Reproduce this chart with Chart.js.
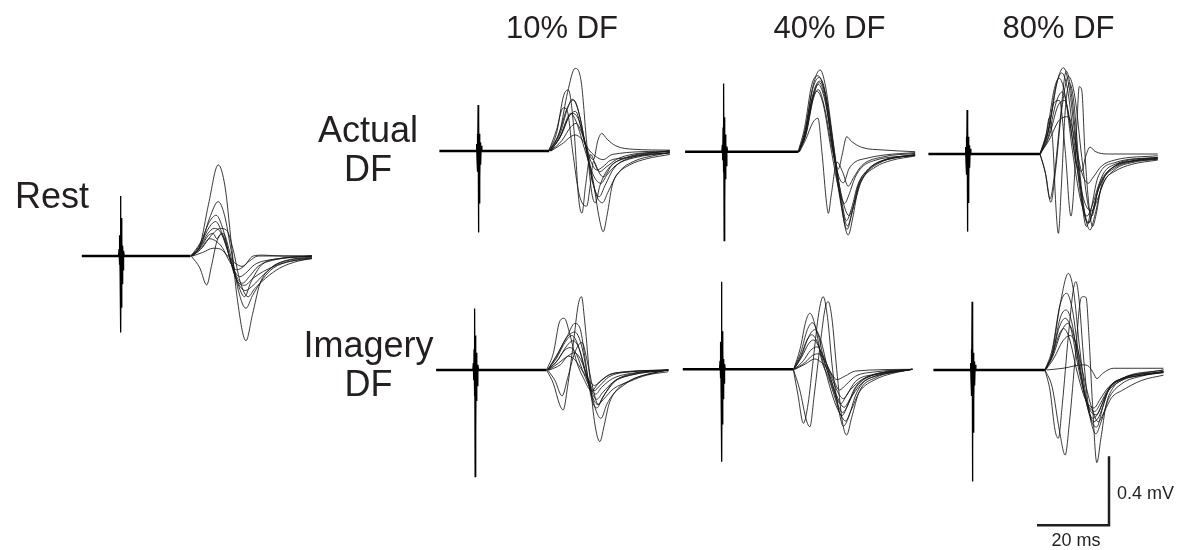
<!DOCTYPE html>
<html><head><meta charset="utf-8">
<script src="https://cdn.jsdelivr.net/npm/chart.js@4.4.1/dist/chart.umd.min.js"></script>
<style>
html,body{margin:0;padding:0;background:#fff;}
body{width:1188px;height:550px;overflow:hidden;position:relative;}
canvas{position:absolute;}
.lbl{position:absolute;font-family:"Liberation Sans",Arial,Helvetica,sans-serif;color:#231f20;white-space:nowrap;line-height:1;}
</style></head><body>
<script>
// ---------- DATA (time in ms, amplitude in mV) ----------
const columnTitles = ["10% DF", "40% DF", "80% DF"];
const rowLabels = [["Actual", "DF"], ["Imagery", "DF"]];
const restLabel = "Rest";
const SCALE_MS = 20;
const SCALE_MV = 0.4;
const scaleBarTimes = [-SCALE_MS, 0, 0];
const scaleBarVolts = [0, 0, SCALE_MV];

const restBaseline = [[0,0],[30.2,0]];
const restArtifact = [[10.2,0],[10.35,0.04],[10.45,-0.05],[10.55,0.12],[10.65,-0.1],[10.75,0.348],[10.85,-0.444],[10.95,0.22],[11.05,-0.3],[11.15,0.12],[11.25,-0.16],[11.35,0.06],[11.45,-0.08],[11.6,0.03],[11.8,0]];
const restTraces = [
 [[30.2,0],[32.8,0.06],[35.2,0.3],[37.9,0.528],[39.8,0.4],[41.5,0.08],[43.2,-0.25],[45.6,-0.491],[47.4,-0.34],[49.5,-0.16],[52.5,-0.07],[56,-0.03],[63.9,-0.005]],
 [[30.4,0],[32.8,-0.07],[34.7,-0.168],[36,-0.06],[37.6,0.09],[39.3,0.13],[41,0.03],[43.2,-0.15],[45.2,-0.236],[47,-0.15],[50,-0.05],[55,-0.015],[63.9,0]],
 [[30.3,0],[33,0.06],[35.5,0.22],[37.9,0.315],[39.6,0.24],[41.5,0.03],[43.5,-0.2],[45.6,-0.303],[47.4,-0.23],[50.4,-0.13],[53.2,-0.07],[58,-0.03],[63.9,-0.01]],
 [[30.3,0],[33,0.08],[35.5,0.2],[37.3,0.236],[39.3,0.15],[41.2,-0.02],[43.5,-0.16],[45.4,-0.2],[47.6,-0.17],[50.4,-0.11],[54,-0.05],[58.7,-0.02],[63.9,-0.01]],
 [[30.5,0],[33,0.07],[35.5,0.17],[37.2,0.2],[39,0.13],[41,0],[43,-0.12],[44.6,-0.158],[46.5,-0.12],[49,-0.06],[53,-0.025],[63.9,0]],
 [[30.4,0],[32.8,0.05],[35,0.13],[36.8,0.16],[38.5,0.14],[40.5,0.03],[42.8,-0.13],[45.2,-0.17],[47.5,-0.13],[50.4,-0.09],[56,-0.04],[63.9,-0.015]],
 [[30.6,0],[33,0.05],[35.2,0.12],[36.5,0.13],[37.5,0.1],[38.7,0.13],[40,0.08],[41.5,-0.04],[43.9,-0.12],[45.5,-0.1],[48,-0.05],[53,-0.02],[63.9,0]],
 [[30.5,0],[33,0.04],[35.5,0.1],[37,0.09],[39,0.05],[41,-0.03],[43,-0.08],[45,-0.06],[47.6,0],[50.4,0.005],[56,0],[63.9,0]],
 [[30.8,0],[33.5,0.02],[36.5,0.045],[38.5,0.04],[40.5,0],[42.5,-0.04],[44.5,-0.06],[46.5,-0.03],[49,0],[63.9,0]],
 [[30.8,0],[33.5,0.05],[36,0.12],[38.5,0.16],[40.2,0.15],[42,0.04],[44,-0.15],[46.2,-0.236],[48,-0.19],[51,-0.13],[55,-0.07],[60,-0.03],[63.9,-0.015]]
];

const a10Baseline = [[0,0],[30.5,0]];
const a10Artifact = [[10.2,0],[10.35,0.04],[10.45,-0.05],[10.55,0.1],[10.65,-0.12],[10.75,0.267],[10.85,-0.473],[10.95,0.18],[11.05,-0.3],[11.15,0.1],[11.25,-0.16],[11.35,0.05],[11.45,-0.08],[11.6,0.03],[11.8,0]];
const a10Traces = [
 [[30.5,0],[33.5,0.12],[35.6,0.34],[37.7,0.479],[39.4,0.4],[40.9,0.05],[42.3,-0.24],[43.3,-0.3],[44.6,-0.2],[47,-0.1],[52,-0.04],[58,-0.015],[64,0]],
 [[30.3,0],[32.5,0.1],[34.5,0.32],[35.8,0.354],[37.4,0.12],[38.7,-0.28],[39.6,-0.36],[40.6,-0.2],[42,-0.02],[43.7,-0.1],[45.5,-0.15],[48,-0.08],[53,-0.03],[64,0]],
 [[31,0],[34,0.1],[36.8,0.218],[38.5,0.19],[40.5,0.04],[42.6,-0.16],[44.5,-0.4],[45.5,-0.468],[46.6,-0.37],[48,-0.2],[50,-0.12],[54,-0.06],[60,-0.025],[64,-0.01]],
 [[30.8,0],[33.5,0.08],[36,0.2],[37.8,0.23],[39.8,0.1],[41.6,-0.02],[42.8,-0.05],[44,0.06],[45.1,0.102],[46.5,0.07],[49,0.03],[54,0.01],[64,0.005]],
 [[30.6,0],[33.2,0.1],[35.5,0.25],[37.3,0.296],[39,0.2],[41,-0.02],[42.8,-0.2],[44.4,-0.265],[46,-0.2],[48.5,-0.1],[53,-0.04],[64,-0.01]],
 [[30.7,0],[33.5,0.08],[35.3,0.18],[36.4,0.218],[38,0.17],[40.5,0],[43,-0.15],[44.9,-0.187],[46.5,-0.14],[49.2,-0.08],[54,-0.04],[64,-0.01]],
 [[30.9,0],[34,0.06],[36.5,0.14],[38,0.16],[39.6,0.1],[41.5,-0.03],[43.7,-0.11],[45.5,-0.09],[47.4,-0.055],[52,-0.04],[58,-0.02],[64,-0.01]],
 [[30.4,0],[32.5,0.12],[34.4,0.25],[35.4,0.24],[37,0],[38.8,-0.25],[40.9,-0.32],[41.9,-0.2],[42.8,-0.06],[44.5,-0.12],[46.5,-0.09],[50,-0.04],[64,0]],
 [[31,0],[34,0.04],[37.7,0.093],[39.5,0.07],[41.8,0],[44,-0.04],[45.5,-0.05],[48,-0.02],[64,0]],
 [[30.6,0],[33.5,0.1],[35.5,0.24],[36.9,0.3],[38.5,0.24],[40.9,0],[43.5,-0.25],[45.3,-0.3],[46.8,-0.24],[49.2,-0.14],[52.9,-0.08],[57.6,-0.045],[64,-0.02]]
];

const a40Baseline = [[0,0],[31.5,0]];
const a40Artifact = [[10.2,0],[10.35,0.04],[10.45,-0.05],[10.55,0.14],[10.65,-0.12],[10.75,0.396],[10.85,-0.516],[10.95,0.2],[11.05,-0.3],[11.15,0.1],[11.25,-0.16],[11.35,0.05],[11.45,-0.08],[11.6,0.03],[11.8,0]];
const a40Traces = [
 [[31.5,0],[33.3,0.12],[35.5,0.38],[37.5,0.474],[39,0.38],[41,0.08],[43,-0.25],[45.3,-0.483],[46.6,-0.38],[48,-0.22],[50,-0.13],[53,-0.07],[57.5,-0.04],[63.9,-0.02]],
 [[31.6,0],[33.4,0.13],[35.4,0.36],[37.2,0.43],[38.9,0.35],[41,0.05],[43,-0.25],[45.1,-0.43],[46.5,-0.34],[48.2,-0.2],[50.5,-0.12],[54,-0.065],[58,-0.035],[63.9,-0.015]],
 [[31.6,0],[33.5,0.12],[35.6,0.34],[37.4,0.41],[39,0.33],[41.2,0.04],[43.2,-0.24],[44.8,-0.4],[46.2,-0.33],[48,-0.19],[51,-0.1],[55,-0.05],[63.9,-0.02]],
 [[31.5,0],[33.6,0.1],[35.8,0.33],[37,0.39],[38.8,0.3],[41.2,0],[43.4,-0.25],[45.5,-0.37],[47,-0.3],[49,-0.17],[52.8,-0.09],[57.4,-0.05],[63.9,-0.025]],
 [[31.4,0],[33.2,0.14],[35.2,0.39],[36.9,0.44],[38.6,0.36],[40.8,0.05],[43,-0.27],[45,-0.45],[46.3,-0.36],[48,-0.2],[50.5,-0.11],[55,-0.05],[63.9,-0.02]],
 [[31.8,0],[33.5,0.07],[35.5,0.17],[36.9,0.194],[38,0],[39.3,-0.3],[39.8,-0.357],[40.6,-0.25],[42.2,-0.06],[43.8,-0.12],[45.3,-0.2],[46.8,-0.15],[49.1,-0.08],[55,-0.03],[63.9,-0.01]],
 [[31.6,0],[33.5,0.1],[35.5,0.3],[37,0.36],[38.8,0.25],[41,0],[42.6,-0.1],[43.6,-0.02],[44.9,0.087],[46.2,0.06],[49.1,0.025],[55,0.01],[63.9,0]],
 [[31.7,0],[33.5,0.1],[35.5,0.32],[37.3,0.4],[39,0.3],[41,0.02],[42.8,-0.15],[44,-0.18],[45.5,-0.1],[47.2,-0.06],[50,-0.04],[55,-0.02],[63.9,-0.005]],
 [[31.5,0],[33.3,0.1],[35.2,0.3],[36.6,0.35],[38.3,0.28],[40.5,0.02],[42.5,-0.2],[44.3,-0.3],[45.5,-0.25],[47.2,-0.15],[49.1,-0.09],[52.75,-0.05],[63.9,-0.02]]
];

const a80Baseline = [[0,0],[31,0]];
const a80Artifact = [[10.2,0],[10.35,0.04],[10.45,-0.05],[10.55,0.1],[10.65,-0.12],[10.75,0.255],[10.85,-0.45],[10.95,0.16],[11.05,-0.28],[11.15,0.1],[11.25,-0.15],[11.35,0.05],[11.45,-0.08],[11.6,0.03],[11.8,0]];
const a80Traces = [
 [[31,0],[33.5,0.15],[35.8,0.42],[37.5,0.5],[39,0.4],[41,0.05],[43,-0.3],[44.9,-0.44],[46.3,-0.35],[48,-0.2],[51.8,-0.09],[56.5,-0.05],[63.7,-0.03]],
 [[31.1,0],[33.3,0.14],[35.5,0.4],[37,0.47],[38.6,0.38],[40.6,0.05],[42.6,-0.28],[44.4,-0.4],[45.8,-0.32],[47.6,-0.18],[51.8,-0.08],[56.5,-0.045],[63.7,-0.025]],
 [[31,0],[33,0.14],[35,0.38],[36.3,0.44],[37.9,0.35],[40,0.02],[42.2,-0.26],[44,-0.36],[45.5,-0.3],[47.5,-0.17],[51.8,-0.07],[56.5,-0.04],[63.7,-0.02]],
 [[31,0],[32.4,-0.1],[33.8,-0.26],[35,-0.12],[36.6,0.2],[38.3,0.48],[39.9,0.32],[41.8,-0.1],[43.9,-0.42],[45.2,-0.32],[47,-0.14],[51.8,-0.05],[63.7,-0.02]],
 [[31,0],[32.6,-0.12],[34,-0.28],[35.3,-0.1],[37,0.25],[38.9,0.45],[40.7,0.33],[42.6,-0.02],[44.4,-0.3],[45.4,-0.36],[47,-0.22],[51.8,-0.07],[63.7,-0.03]],
 [[31,0],[32.6,0.1],[33.6,0.21],[34.6,0.05],[35.4,-0.3],[36.1,-0.46],[36.9,-0.2],[38,0.25],[39.2,0.41],[40.4,0.3],[41.8,-0.05],[43.5,-0.35],[44.6,-0.4],[46,-0.3],[48,-0.14],[51.8,-0.06],[63.7,-0.02]],
 [[31,0],[33,0.1],[35,0.3],[36.4,0.31],[38,0.02],[39.6,-0.36],[40.4,-0.2],[41.3,0.2],[41.9,0.39],[42.6,0.37],[43.5,0],[44.6,-0.3],[45.6,-0.42],[46.6,-0.35],[48.1,-0.18],[51.8,-0.07],[56.5,-0.04],[63.7,-0.025]],
 [[31.1,0],[33.5,0.1],[36,0.28],[37.9,0.31],[39.5,0.15],[41,-0.05],[42.6,-0.1],[43.6,-0.02],[44.9,0.04],[46.3,0.015],[50,0],[63.7,0]],
 [[31,0],[33.5,0.08],[36.5,0.2],[38.9,0.216],[40.5,0.1],[42.5,-0.1],[44.4,-0.17],[45.6,-0.14],[48.1,-0.07],[51.8,-0.035],[63.7,-0.01]],
 [[31,0],[33.3,0.1],[35.5,0.3],[37.2,0.36],[38.8,0.25],[41,-0.05],[43.4,-0.28],[45.4,-0.33],[47,-0.26],[49,-0.15],[51.8,-0.1],[56.5,-0.06],[63.7,-0.035]]
];

const i10Baseline = [[0,0],[30.7,0]];
const i10Artifact = [[10.2,0],[10.35,0.04],[10.45,-0.06],[10.55,0.12],[10.65,-0.15],[10.75,0.357],[10.85,-0.618],[10.95,0.2],[11.05,-0.35],[11.15,0.1],[11.25,-0.18],[11.35,0.05],[11.45,-0.09],[11.6,0.03],[11.8,0]];
const i10Traces = [
 [[30.7,0],[32.6,-0.08],[34.3,-0.2],[35.3,-0.232],[36.5,-0.1],[38.1,0.15],[39.5,0.38],[40.4,0.425],[41.2,0.3],[42.5,0],[44,-0.3],[45.5,-0.415],[46.6,-0.33],[48,-0.2],[50,-0.12],[53.9,-0.06],[58.5,-0.025],[64.5,0]],
 [[30.7,0],[32.6,0.1],[34.3,0.28],[35.6,0.3],[37,0.22],[39,0.05],[41,-0.05],[43.2,-0.12],[45,-0.08],[48,-0.03],[54,-0.01],[64.5,0]],
 [[31,0],[33.9,0.1],[36.5,0.2],[38.5,0.27],[40,0.24],[41.5,0.05],[43,-0.15],[44.6,-0.22],[46.3,-0.16],[49.2,-0.07],[53.9,-0.03],[64.5,0]],
 [[31,0],[33.5,0.07],[35.8,0.16],[37.7,0.2],[39.5,0.14],[41.5,-0.02],[43.5,-0.16],[44.9,-0.2],[46.5,-0.17],[49.2,-0.11],[53.9,-0.065],[58.5,-0.03],[64.5,-0.01]],
 [[31.2,0],[33.9,0.06],[36.3,0.14],[38.1,0.17],[39.8,0.12],[41.8,-0.03],[43.5,-0.14],[44.6,-0.17],[46.3,-0.13],[49.2,-0.07],[54,-0.03],[64.5,0]],
 [[31,0],[33.5,0.05],[35.5,0.11],[37.2,0.13],[39,0.09],[41,-0.02],[43,-0.11],[44.3,-0.14],[46,-0.1],[49,-0.05],[54,-0.02],[64.5,0]],
 [[31.3,0],[34,0.04],[36.5,0.08],[38.5,0.1],[40.2,0.06],[42,-0.04],[43.9,-0.12],[45.5,-0.09],[48,-0.04],[54,-0.01],[64.5,0]],
 [[31.5,0],[34.5,0.03],[36.8,0.08],[38.5,0.06],[40.5,0],[42.5,-0.06],[44,-0.09],[45.8,-0.06],[49,-0.02],[64.5,0]],
 [[31,0],[33,-0.06],[35,-0.15],[36.5,-0.05],[38.5,0.1],[40.5,0.16],[42,0.05],[43.5,-0.1],[45,-0.2],[46.5,-0.15],[50,-0.06],[55,-0.02],[64.5,0]],
 [[30.9,0],[33.5,0.08],[36,0.18],[38.5,0.22],[40.3,0.15],[42.5,-0.08],[44.5,-0.24],[45.8,-0.28],[47.4,-0.2],[49.2,-0.14],[52,-0.09],[55,-0.05],[60,-0.02],[64.5,0]]
];

const i40Baseline = [[0,0],[30.7,0]];
const i40Artifact = [[10.2,0],[10.35,0.05],[10.45,-0.05],[10.55,0.16],[10.65,-0.14],[10.75,0.508],[10.85,-0.536],[10.95,0.22],[11.05,-0.32],[11.15,0.12],[11.25,-0.17],[11.35,0.06],[11.45,-0.08],[11.6,0.03],[11.8,0]];
const i40Traces = [
 [[30.7,0],[32,-0.15],[33.5,-0.313],[34.8,-0.2],[36.2,0.05],[37.8,0.33],[39,0.421],[40.2,0.3],[41.6,0],[43.2,-0.22],[44.6,-0.33],[46,-0.28],[48,-0.15],[50,-0.08],[53.4,-0.04],[58,-0.02],[63.75,0]],
 [[30.7,0],[32.5,-0.12],[34.4,-0.3],[35.3,-0.333],[36.5,-0.15],[38.2,0.15],[39.6,0.36],[40.4,0.392],[41.4,0.3],[42.75,0],[44.3,-0.3],[45.5,-0.381],[46.9,-0.28],[49,-0.13],[53.4,-0.05],[63.75,0]],
 [[30.8,0],[32.6,0.12],[34.2,0.28],[35.3,0.325],[36.8,0.25],[38.6,0.05],[40.5,-0.05],[42.5,-0.18],[44.1,-0.27],[45.6,-0.22],[47.5,-0.12],[50,-0.06],[55,-0.025],[63.75,0]],
 [[30.8,0],[32.8,0.1],[34.6,0.23],[36,0.27],[37.6,0.2],[39.5,0.03],[41.5,-0.08],[43,-0.2],[44.4,-0.25],[46,-0.2],[48,-0.11],[51,-0.05],[63.75,0]],
 [[30.9,0],[33,0.08],[35,0.19],[36.7,0.23],[38.3,0.17],[40.3,0],[42.5,-0.14],[44.8,-0.22],[46.5,-0.17],[49.7,-0.08],[53.4,-0.04],[63.75,0]],
 [[30.9,0],[33,0.07],[35,0.15],[36.3,0.17],[38,0.12],[40,0],[42,-0.13],[43.8,-0.2],[45.5,-0.15],[48,-0.07],[53,-0.03],[63.75,0]],
 [[31,0],[33.5,0.05],[35.5,0.11],[37.2,0.13],[39,0.08],[41,-0.03],[43,-0.13],[44.6,-0.17],[46.5,-0.12],[49.7,-0.06],[55,-0.02],[63.75,0]],
 [[31,0],[34,0.04],[36,0.08],[37.6,0.09],[39.5,0.05],[41.5,-0.04],[43.5,-0.12],[45.3,-0.09],[48,-0.04],[53.4,-0.015],[63.75,0]],
 [[31.2,0],[34,0.03],[36.7,0.06],[38.5,0.04],[40.5,0],[42.8,-0.06],[45,-0.04],[48,-0.01],[63.75,0]],
 [[30.8,0],[32.8,0.08],[34.5,0.17],[35.8,0.2],[37.5,0.15],[39.5,0],[42,-0.18],[44,-0.27],[45.2,-0.3],[46.7,-0.24],[49.1,-0.13],[53.4,-0.06],[58,-0.025],[63.75,0]]
];

const i80Baseline = [[0,0],[31,0]];
const i80Artifact = [[10.2,0],[10.35,0.04],[10.45,-0.06],[10.55,0.12],[10.65,-0.15],[10.75,0.396],[10.85,-0.647],[10.95,0.2],[11.05,-0.36],[11.15,0.1],[11.25,-0.18],[11.35,0.05],[11.45,-0.09],[11.6,0.03],[11.8,0]];
const i80Traces = [
 [[31,0],[33,0.1],[35.2,0.38],[37.5,0.56],[39,0.45],[40.5,0.15],[42,-0.1],[44,-0.3],[45.4,-0.33],[47,-0.22],[49,-0.1],[52.3,-0.05],[57.9,-0.02],[63.9,0]],
 [[31,0],[32.4,-0.12],[33.8,-0.35],[34.7,-0.396],[35.8,-0.2],[37.5,0.2],[38.9,0.47],[39.6,0.512],[40.5,0.4],[41.6,0.1],[43,-0.2],[44.5,-0.3],[46,-0.27],[48.6,-0.12],[52.3,-0.05],[63.9,0]],
 [[31,0],[33,-0.1],[35,-0.35],[36.6,-0.493],[37.8,-0.3],[39.5,0.1],[40.8,0.4],[41.5,0.425],[42.4,0.42],[43.2,0.2],[44.2,-0.2],[45.4,-0.537],[46.5,-0.4],[48,-0.2],[50,-0.1],[52.3,-0.06],[57.9,-0.03],[63.9,-0.01]],
 [[31,0],[33,0.12],[35.2,0.38],[37,0.445],[38.6,0.35],[40.6,0.05],[42.6,-0.2],[44.3,-0.28],[45.8,-0.25],[48,-0.14],[52.3,-0.06],[57.9,-0.03],[63.9,-0.01]],
 [[31.1,0],[33.2,0.1],[35.2,0.3],[36.8,0.348],[38.4,0.28],[40.4,0.03],[42.8,-0.2],[45.2,-0.26],[46.8,-0.2],[49,-0.1],[52.3,-0.05],[63.9,-0.01]],
 [[31,0],[33,0.09],[35,0.25],[36.6,0.3],[38.2,0.24],[40.2,0.02],[42.5,-0.18],[44.8,-0.24],[46.5,-0.19],[48.6,-0.11],[52.3,-0.055],[57.9,-0.03],[63.9,-0.015]],
 [[31.1,0],[33.2,0.08],[35.5,0.22],[37.3,0.27],[39,0.2],[41,-0.03],[43.2,-0.25],[45.1,-0.37],[46.6,-0.3],[48.6,-0.17],[52.3,-0.08],[57.9,-0.035],[63.9,-0.015]],
 [[31,0],[33,0.08],[34.8,0.2],[36.2,0.24],[37.8,0.18],[39.8,0],[42.2,-0.17],[44.6,-0.22],[46.3,-0.17],[48.6,-0.1],[52.3,-0.05],[63.9,-0.01]],
 [[31.5,0],[36,0.01],[41.6,0.03],[43.2,0.02],[44.5,-0.02],[45.4,-0.05],[47,-0.02],[50,0.01],[57.9,0.01],[63.9,0.01]],
 [[31.2,0],[33.5,0.07],[36,0.17],[38,0.2],[39.8,0.14],[42,-0.06],[44,-0.22],[45.8,-0.3],[47.5,-0.24],[49.5,-0.16],[52.3,-0.12],[57.9,-0.06],[63.9,-0.03]]
];

// ---------- LAYOUT (page pixels) ----------
const PX_PER_MS = 3.6, PX_PER_MV = 172.5;
const INK = "#231f20";
const panels = [
  {x0: 81.8,  base: 256,   traces: restTraces, baseline: restBaseline, artifact: restArtifact},
  {x0: 439.4, base: 151,   traces: a10Traces,  baseline: a10Baseline,  artifact: a10Artifact},
  {x0: 685.1, base: 151.7, traces: a40Traces,  baseline: a40Baseline,  artifact: a40Artifact},
  {x0: 928.4, base: 154,   traces: a80Traces,  baseline: a80Baseline,  artifact: a80Artifact},
  {x0: 436.1, base: 370,   traces: i10Traces,  baseline: i10Baseline,  artifact: i10Artifact},
  {x0: 682.8, base: 369.3, traces: i40Traces,  baseline: i40Baseline,  artifact: i40Artifact},
  {x0: 933.4, base: 370,   traces: i80Traces,  baseline: i80Baseline,  artifact: i80Artifact}
];

function toXY(arr){ return arr.map(p => ({x: p[0], y: p[1]})); }

function makeChart(left, top, w, h, xmin, ymax, datasets){
  const c = document.createElement('canvas');
  c.width = w; c.height = h;
  c.style.left = left + 'px'; c.style.top = top + 'px';
  c.style.width = w + 'px'; c.style.height = h + 'px';
  document.body.appendChild(c);
  new Chart(c, {
    type: 'line',
    data: {datasets},
    options: {
      responsive: false, animation: false, devicePixelRatio: 1, events: [],
      layout: {padding: 0},
      plugins: {legend: {display: false}, tooltip: {enabled: false}},
      elements: {point: {radius: 0}},
      scales: {
        x: {type: 'linear', display: false, min: xmin, max: xmin + w / PX_PER_MS},
        y: {type: 'linear', display: false, min: ymax - h / PX_PER_MV, max: ymax}
      }
    }
  });
}

panels.forEach(p => {
  const left = Math.round(p.x0) - 5, top = Math.round(p.base) - 150;
  const w = 252, h = 300;
  const ds = [];
  p.traces.forEach(t => ds.push({data: toXY(t), borderColor: '#161616', borderWidth: 0.85,
    pointRadius: 0, fill: false, cubicInterpolationMode: 'monotone', borderJoinStyle: 'round'}));
  ds.push({data: toXY(p.baseline), borderColor: '#000', borderWidth: 2.6, pointRadius: 0, fill: false, tension: 0});
  ds.push({data: toXY(p.artifact), borderColor: '#000', borderWidth: 1.3, pointRadius: 0, fill: false, tension: 0});
  makeChart(left, top, w, h, (left - p.x0) / PX_PER_MS, (p.base - top) / PX_PER_MV, ds);
});

// scale bar (same scales as traces)
(function(){
  const cornerX = 1109, cornerY = 525.3;
  const left = 1020, top = 440, w = 110, h = 100;
  const pts = scaleBarTimes.map((t, i) => ({x: t, y: scaleBarVolts[i]}));
  makeChart(left, top, w, h, (left - cornerX) / PX_PER_MS, (cornerY - top) / PX_PER_MV,
    [{data: pts, borderColor: INK, borderWidth: 2.5, pointRadius: 0, fill: false, tension: 0,
      borderJoinStyle: 'miter', borderCapStyle: 'butt'}]);
})();

// ---------- TEXT ----------
function addText(txt, x, baseline, size, align){
  const d = document.createElement('div');
  d.className = 'lbl';
  d.textContent = txt;
  d.style.fontSize = size + 'px';
  d.style.top = (baseline - 0.8465 * size) + 'px';
  if (align === 'center') { d.style.left = (x - 200) + 'px'; d.style.width = '400px'; d.style.textAlign = 'center'; }
  else { d.style.left = x + 'px'; }
  document.body.appendChild(d);
}
const titleCenters = [562, 829.5, 1058.5];
columnTitles.forEach((t, i) => addText(t, titleCenters[i], 38, 31, 'center'));
addText(rowLabels[0][0], 368, 142, 36, 'center');
addText(rowLabels[0][1], 368, 181, 36, 'center');
addText(rowLabels[1][0], 368.5, 357, 36, 'center');
addText(rowLabels[1][1], 368.5, 396, 36, 'center');
addText(restLabel, 15, 208, 36, 'left');
addText(SCALE_MV + ' mV', 1117, 499, 18, 'left');
addText(SCALE_MS + ' ms', 1076, 546, 18, 'center');
</script>
</body></html>
